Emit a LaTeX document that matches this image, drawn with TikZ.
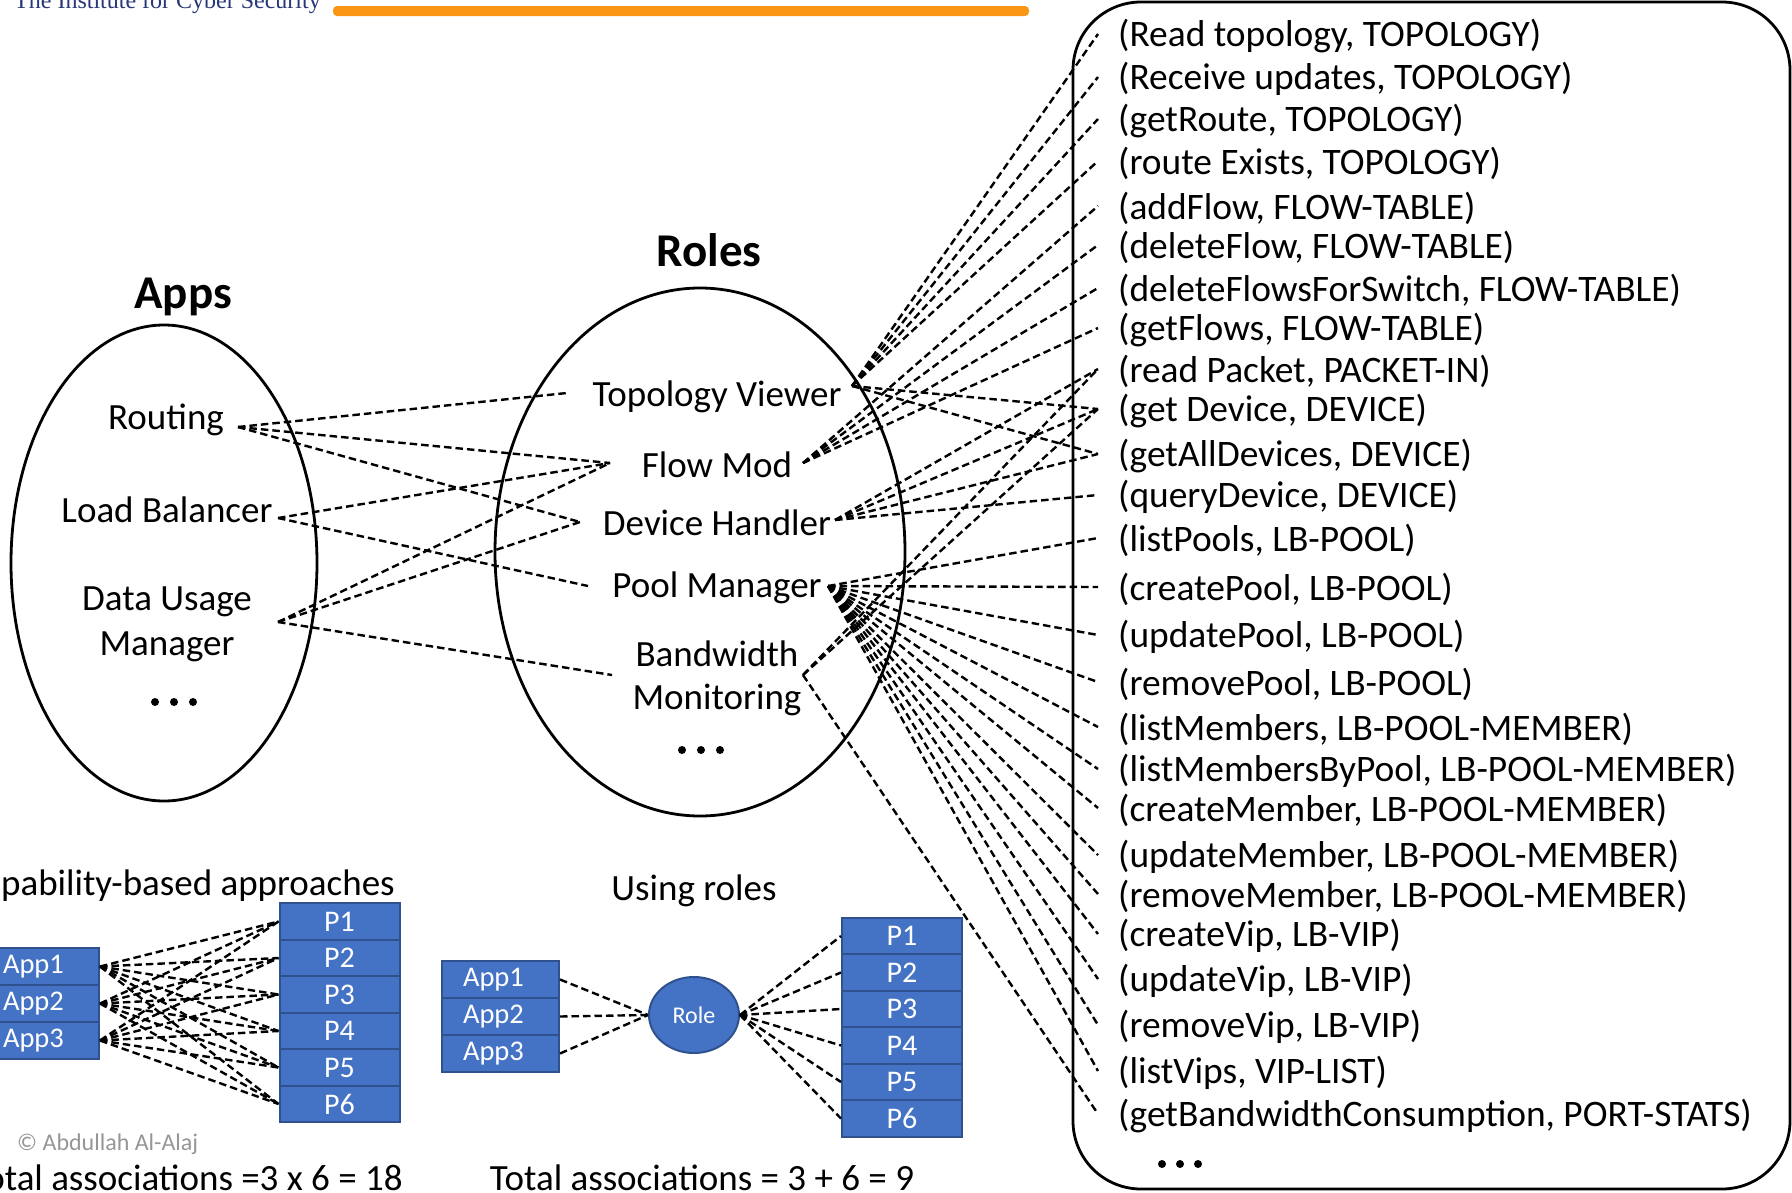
\documentclass[tikz,border=0pt]{standalone}
\usepackage{fontspec}
\setmainfont{Carlito}
\newfontfamily\headfont{Liberation Serif}
\usetikzlibrary{shapes.geometric}

\definecolor{boxblue}{RGB}{68,114,196}
\definecolor{boxedge}{RGB}{47,82,143}
\definecolor{barorange}{RGB}{250,150,20}
\definecolor{headblue}{RGB}{40,55,120}
\definecolor{creditgray}{RGB}{150,150,150}

\tikzset{
  conn/.style={line width=2.4pt, dash pattern=on 7.5pt off 4pt},
  lbl/.style={font=\fontsize{37}{44}\selectfont, inner sep=0pt},
  item/.style={inner sep=0pt, font=\fontsize{37.4}{44}\selectfont, anchor=west},
  ttl/.style={font=\fontsize{47}{52}\selectfont\bfseries, inner sep=0pt},
  outline/.style={draw, ellipse, line width=2.8pt, inner sep=0pt},
  appbox/.style={draw=boxedge, fill=boxblue, line width=2pt, text=white,
    font=\fontsize{28.5}{30}\selectfont, text width=75pt, align=left,
    inner xsep=21pt, inner ysep=0pt, minimum height=37pt},
  pbox/.style={draw=boxedge, fill=boxblue, line width=2pt, text=white,
    font=\fontsize{30}{32}\selectfont, minimum width=120pt,
    inner sep=0pt, minimum height=36.5pt},
  dot/.style={circle, fill, inner sep=0pt, minimum size=8pt}
}

\begin{document}
\begin{tikzpicture}[x=1pt,y=-1pt]
\useasboundingbox (0,0) rectangle (1792,1192);

% header strip
\node[anchor=base west, inner sep=0pt, text=headblue,
      font=\headfont\fontsize{24}{26}\selectfont] (inst) at (14,8)
      {The Institute for Cyber Security};
\fill[barorange, rounded corners=4pt] (333,6) rectangle (1029,16);

% ---------- Apps ----------
\node[ttl] (appsT) at (183,297) {Apps};
\node[outline, minimum width=306pt, minimum height=476pt] (appsE) at (164,563) {};
\node[lbl] (routing) at (166,420) {Routing};
\node[lbl] (lb) at (167,510) {Load Balancer};
\node[lbl, align=center, font=\fontsize{37}{45}\selectfont] (dum) at (167,624) {Data Usage\\Manager};
\node[dot] (ad1) at (155,702) {};
\node[dot] (ad2) at (174,702) {};
\node[dot] (ad3) at (193,702) {};

\coordinate (routingR) at (238,427);
\coordinate (lbR) at (278,518);
\coordinate (dumR) at (278,622);

% ---------- Roles ----------
\node[ttl] (rolesT) at (709,250) {Roles};
\node[outline, minimum width=410pt, minimum height=528pt] (rolesE) at (700,552) {};
\node[lbl] (tv) at (717,397) {Topology Viewer};
\node[lbl] (fm) at (717,465) {Flow Mod};
\node[lbl] (dh) at (717,523) {Device Handler};
\node[lbl] (pm) at (717,588) {Pool Manager};
\node[lbl, align=center, font=\fontsize{37}{43}\selectfont] (bm) at (717,678) {Bandwidth\\Monitoring};
\node[dot] (rd1) at (682,750) {};
\node[dot] (rd2) at (701,750) {};
\node[dot] (rd3) at (720,750) {};

\coordinate (tvL) at (567,393);
\coordinate (fmL) at (610,463);
\coordinate (dhL) at (580,522);
\coordinate (pmL) at (588,586);
\coordinate (bmL) at (612,675);

\coordinate (tvR) at (852,386);
\coordinate (fmR) at (803,463);
\coordinate (dhR) at (835,520);
\coordinate (pmR) at (828,586);
\coordinate (bmR) at (803,675);

% apps to roles
\draw[conn] (routingR) -- (tvL);
\draw[conn] (routingR) -- (fmL);
\draw[conn] (routingR) -- (dhL);
\draw[conn] (lbR) -- (fmL);
\draw[conn] (lbR) -- (pmL);
\draw[conn] (dumR) -- (fmL);
\draw[conn] (dumR) -- (dhL);
\draw[conn] (dumR) -- (bmL);

% ---------- permissions ----------
\draw[line width=2.8pt, rounded corners=68pt] (1073,2) rectangle (1790,1189);

\node[item] (i1)  at (1118,36)   {(Read topology, TOPOLOGY)};
\node[item] (i2)  at (1118,79)   {(Receive updates, TOPOLOGY)};
\node[item] (i3)  at (1118,121)  {(getRoute, TOPOLOGY)};
\node[item] (i4)  at (1118,163)  {(route Exists, TOPOLOGY)};
\node[item] (i5)  at (1118,208)  {(addFlow, FLOW-TABLE)};
\node[item] (i6)  at (1118,247)  {(deleteFlow, FLOW-TABLE)};
\node[item] (i7)  at (1118,290)  {(deleteFlowsForSwitch, FLOW-TABLE)};
\node[item] (i8)  at (1118,330)  {(getFlows, FLOW-TABLE)};
\node[item] (i9)  at (1118,371)  {(read Packet, PACKET-IN)};
\node[item] (i10) at (1118,411)  {(get Device, DEVICE)};
\node[item] (i11) at (1118,456)  {(getAllDevices, DEVICE)};
\node[item] (i12) at (1118,497)  {(queryDevice, DEVICE)};
\node[item] (i13) at (1118,540)  {(listPools, LB-POOL)};
\node[item] (i14) at (1118,589)  {(createPool, LB-POOL)};
\node[item] (i15) at (1118,637)  {(updatePool, LB-POOL)};
\node[item] (i16) at (1118,684)  {(removePool, LB-POOL)};
\node[item] (i17) at (1118,729)  {(listMembers, LB-POOL-MEMBER)};
\node[item] (i18) at (1118,771)  {(listMembersByPool, LB-POOL-MEMBER)};
\node[item] (i19) at (1118,810)  {(createMember, LB-POOL-MEMBER)};
\node[item] (i20) at (1118,857)  {(updateMember, LB-POOL-MEMBER)};
\node[item] (i21) at (1118,896)  {(removeMember, LB-POOL-MEMBER)};
\node[item] (i22) at (1118,936)  {(createVip, LB-VIP)};
\node[item] (i23) at (1118,981)  {(updateVip, LB-VIP)};
\node[item] (i24) at (1118,1027) {(removeVip, LB-VIP)};
\node[item] (i25) at (1118,1073) {(listVips, VIP-LIST)};
\node[item] (i26) at (1118,1116) {(getBandwidthConsumption, PORT-STATS)};
\node[dot] (pd1) at (1162,1164) {};
\node[dot] (pd2) at (1180,1164) {};
\node[dot] (pd3) at (1198,1164) {};

\foreach \n/\y in {1/34,2/77,3/119,4/161,5/206,6/245,7/288,8/328,9/369,
  10/409,11/454,12/495,13/538,14/587,15/635,16/682,17/727,18/769,19/808,
  20/855,21/894,22/934,23/979,24/1025,25/1071,26/1114}
  \coordinate (e\n) at (1098,\y);

% roles to permissions
\foreach \n in {1,2,3,4,10,11} \draw[conn] (tvR) -- (e\n);
\foreach \n in {5,6,7,8} \draw[conn] (fmR) -- (e\n);
\foreach \n in {9,10,11,12} \draw[conn] (dhR) -- (e\n);
\foreach \n in {13,...,25} \draw[conn] (pmR) -- (e\n);
\foreach \n in {9,10,26} \draw[conn] (bmR) -- (e\n);

% ---------- capability-based associations ----------
\node[lbl, anchor=east] (capT) at (395,886) {Capability-based approaches};
\foreach \k/\y in {1/966.5,2/1003.5,3/1040.5}
  \node[appbox] (ca\k) at (40.5,\y) {App\k};
\foreach \k/\y in {1/921.5,2/958,3/994.5,4/1031,5/1067.5,6/1104}
  \node[pbox] (cp\k) at (339.5,\y) {P\k};
\foreach \a in {1,2,3}
  \foreach \p in {1,...,6}
    \draw[conn] (ca\a.east) -- (cp\p.west);
\node[inner sep=0pt, text=creditgray, font=\fontsize{24}{26}\selectfont, anchor=west]
  (credit) at (17,1144) {\textcopyright\ Abdullah Al-Alaj};
\node[lbl, anchor=east] (capTot) at (403,1178) {Total associations =3 x 6 = 18};

% ---------- role-based associations ----------
\node[lbl] (roleT) at (694,891) {Using roles};
\foreach \k/\y in {1/979.5,2/1016.5,3/1053.5}
  \node[appbox] (ra\k) at (500.5,\y) {App\k};
\node[draw=boxedge, fill=boxblue, line width=2pt, ellipse, text=white,
      font=\fontsize{24}{26}\selectfont, minimum width=90pt, minimum height=76pt,
      inner sep=0pt] (role) at (694,1015) {Role};
\foreach \k/\y in {1/936,2/972.5,3/1009,4/1045.5,5/1082,6/1118.5}
  \node[pbox] (rp\k) at (902,\y) {P\k};
\foreach \a in {1,2,3} \draw[conn] (ra\a.east) -- (role.west);
\foreach \p in {1,...,6} \draw[conn] (role.east) -- (rp\p.west);
\node[lbl] (roleTot) at (702,1178) {Total associations = 3 + 6 = 9};

\end{tikzpicture}
\end{document}
